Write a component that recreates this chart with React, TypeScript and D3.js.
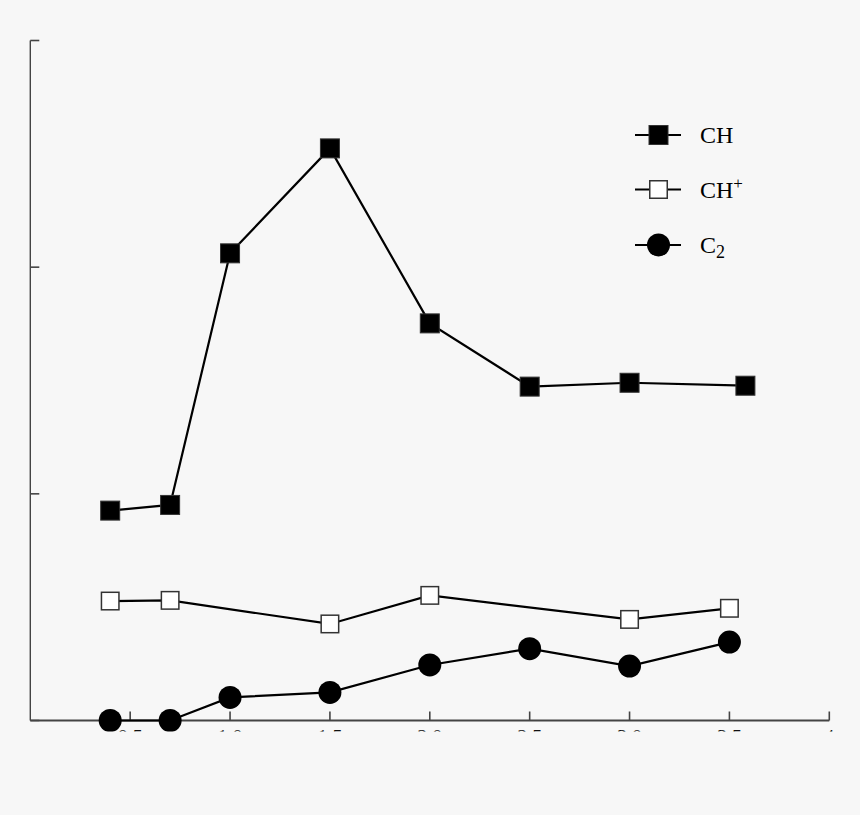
import React from 'react'
import * as d3 from 'd3'

// CH (filled squares)
const chX = [0.4, 0.7, 1.0, 1.5, 2.0, 2.5, 3.0, 3.58]
const chY = [0.926, 0.951, 2.061, 2.524, 1.752, 1.473, 1.49, 1.477]

// CH+ (open squares)
const chPlusX = [0.4, 0.7, 1.5, 2.0, 3.0, 3.5]
const chPlusY = [0.527, 0.53, 0.426, 0.552, 0.446, 0.495]

// C2 (filled circles)
const c2X = [0.4, 0.7, 1.0, 1.5, 2.0, 2.5, 3.0, 3.5]
const c2Y = [0.0, 0.0, 0.102, 0.124, 0.245, 0.317, 0.24, 0.346]

const xTicks = [0.5, 1.0, 1.5, 2.0, 2.5, 3.0, 3.5, 4]
const xTickLabels = ['0.5', '1.0', '1.5', '2.0', '2.5', '3.0', '3.5', '4']
const yTicks = [0, 1, 2, 3]

const W = 860
const H = 815
const BG = '#f7f7f7'
const AXIS = '#444'
const FONT = '"Liberation Serif", "DejaVu Serif", serif'

function pts(xs: number[], ys: number[]) {
	return xs.map((x, i) => [x, ys[i]] as [number, number])
}

export default function App() {
	const x = d3.scaleLinear().domain([0, 4]).range([30.3, 829.3])
	const y = d3.scaleLinear().domain([0, 3]).range([720.5, 40.5])

	const line = d3.line<[number, number]>()
		.x(d => x(d[0]))
		.y(d => y(d[1]))

	const ch = pts(chX, chY)
	const chPlus = pts(chPlusX, chPlusY)
	const c2 = pts(c2X, c2Y)
	const sq = 19
	const r = 11.5

	const legend = [
		{label: 'CH', y: 135, kind: 'filled'},
		{label: 'CH+', y: 189.5, kind: 'open'},
		{label: 'C2', y: 245, kind: 'circle'},
	]

	return (
		<svg width={W} height={H} viewBox={`0 0 ${W} ${H}`}
			style={{position: 'absolute', left: 0, top: 0, background: BG}}>
			<defs>
				<clipPath id="cut">
					<rect x={0} y={0} width={W} height={731.5} />
				</clipPath>
			</defs>
			<rect width={W} height={H} fill={BG} />
			<g clipPath="url(#cut)">
				{/* axes */}
				<line x1={x(0)} x2={x(0)} y1={y(3)} y2={y(0)} stroke={AXIS} strokeWidth={1.4} />
				<line x1={x(0)} x2={x(4)} y1={y(0)} y2={y(0)} stroke={AXIS} strokeWidth={2.2} />
				{yTicks.map(t => (
					<line key={`yt-${t}`} x1={x(0)} x2={x(0) + 9} y1={y(t)} y2={y(t)} stroke={AXIS} strokeWidth={1.6} />
				))}
				{xTicks.map((t, i) => (
					<g key={`xt-${t}`}>
						<line x1={x(t)} x2={x(t)} y1={y(0)} y2={y(0) - 9} stroke={AXIS} strokeWidth={1.6} />
						<text x={x(t)} y={744} textAnchor="middle" fontFamily={FONT} fontSize={20} fill="#111">
							{xTickLabels[i]}
						</text>
					</g>
				))}

				{/* series lines */}
				<path d={line(ch) || ''} fill="none" stroke="#000" strokeWidth={2.2} />
				<path d={line(chPlus) || ''} fill="none" stroke="#000" strokeWidth={2.2} />
				<path d={line(c2) || ''} fill="none" stroke="#000" strokeWidth={2.2} />

				{/* markers */}
				{ch.map((d, i) => (
					<rect key={`ch-${i}`} x={x(d[0]) - sq / 2} y={y(d[1]) - sq / 2} width={sq} height={sq}
						fill="#000" stroke="#333" strokeWidth={1} />
				))}
				{chPlus.map((d, i) => (
					<rect key={`chp-${i}`} x={x(d[0]) - sq / 2 + 0.75} y={y(d[1]) - sq / 2 + 0.75} width={sq - 1.5} height={sq - 1.5}
						fill="#fff" stroke="#333" strokeWidth={1.5} />
				))}
				{c2.map((d, i) => (
					<circle key={`c2-${i}`} cx={x(d[0])} cy={y(d[1])} r={r} fill="#000" />
				))}
			</g>

			{/* legend */}
			{legend.map(l => (
				<g key={l.label}>
					<line x1={635} x2={681} y1={l.y} y2={l.y} stroke="#000" strokeWidth={2.2} />
					{l.kind === 'circle' ? (
						<circle cx={658.5} cy={l.y} r={11.5} fill="#000" />
					) : (
						<rect x={658.5 - sq / 2 + (l.kind === 'open' ? 0.75 : 0)} y={l.y - sq / 2 + (l.kind === 'open' ? 0.75 : 0)}
							width={l.kind === 'open' ? sq - 1.5 : sq} height={l.kind === 'open' ? sq - 1.5 : sq}
							fill={l.kind === 'open' ? '#fff' : '#000'} stroke="#333" strokeWidth={l.kind === 'open' ? 1.5 : 1} />
					)}
				</g>
			))}
			<text x={700} y={143.3} fontFamily={FONT} fontSize={24} fill="#000">CH</text>
			<text x={700} y={198.3} fontFamily={FONT} fontSize={24} fill="#000">
				CH<tspan fontSize={17} dy={-9}>+</tspan>
			</text>
			<text x={700} y={253.3} fontFamily={FONT} fontSize={24} fill="#000">
				C<tspan fontSize={18} dy={5}>2</tspan>
			</text>
		</svg>
	)
}
